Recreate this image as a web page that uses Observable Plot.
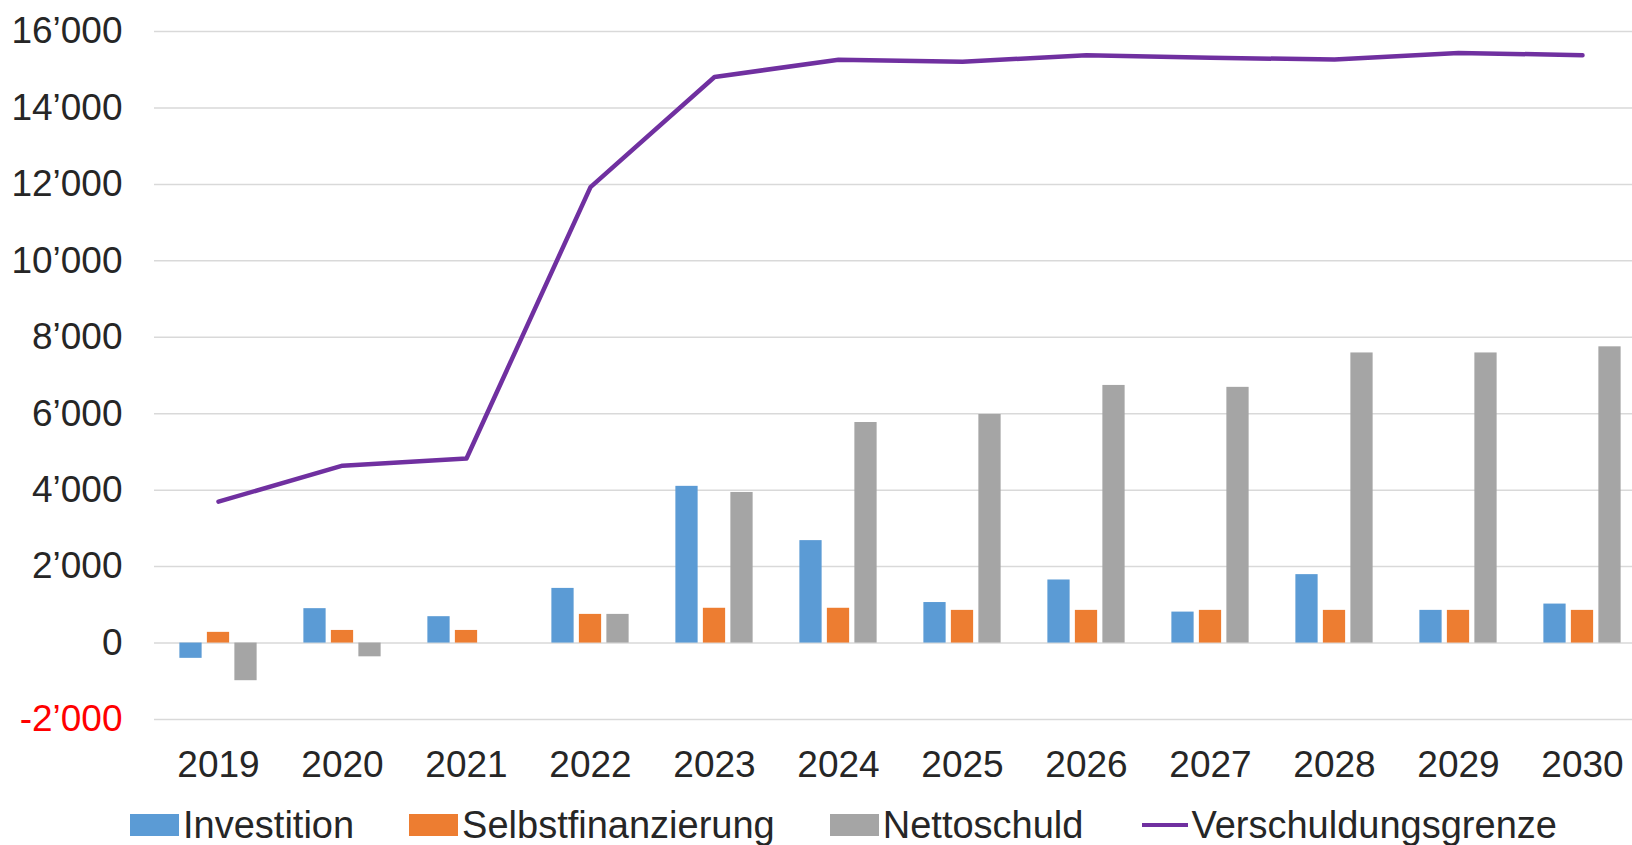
<!DOCTYPE html>
<html>
<head>
<meta charset="utf-8">
<script src="https://cdn.jsdelivr.net/npm/d3@7"></script>
<script src="https://cdn.jsdelivr.net/npm/@observablehq/plot@0.6"></script>
<style>
  html, body { margin: 0; padding: 0; background: #fff; overflow: hidden; width: 1632px; height: 845px; }
  #chart svg { display: block; max-width: none; }
  .legend { display: flex; align-items: center; font-family: "Liberation Sans", Arial, sans-serif; font-size: 38px; color: #262626; padding-left: 130px; margin-top: 13px; height: 44px; white-space: nowrap; }
  .legend .item { display: flex; align-items: center; margin-right: 55px; }
  .legend .sw { width: 49px; height: 22px; margin-right: 4px; }
  .legend .ln { width: 46px; height: 4.5px; margin-left: 4px; margin-right: 3px; }
</style>
</head>
<body>
<div id="chart"></div>
<div class="legend" id="legend"></div>
<script>
// ---- data ----
const years = ["2019","2020","2021","2022","2023","2024","2025","2026","2027","2028","2029","2030"];
const investition = [-400, 900, 690, 1430, 4100, 2680, 1060, 1650, 810, 1790, 855, 1020];
const selbstfinanzierung = [280, 330, 330, 750, 910, 910, 855, 855, 855, 855, 855, 855];
const nettoschuld = [-985, -360, 0, 750, 3940, 5770, 5980, 6740, 6690, 7590, 7590, 7750];
const verschuldungsgrenze = [3700, 4640, 4830, 11930, 14810, 15260, 15210, 15380, 15310, 15270, 15440, 15380];
const yTicks = [-2000, 0, 2000, 4000, 6000, 8000, 10000, 12000, 14000, 16000];
const seriesNames = ["Investition", "Selbstfinanzierung", "Nettoschuld", "Verschuldungsgrenze"];
const seriesColors = ["#5B9BD5", "#ED7D31", "#A5A5A5", "#7030A0"];

// ---- table ----
const rows = years.map((y, i) => ({
  year: y,
  inv: investition[i],
  selbst: selbstfinanzierung[i],
  netto: nettoschuld[i],
  grenze: verschuldungsgrenze[i]
}));

const fmt = d3.formatLocale({decimal: ".", thousands: "\u2019", grouping: [3], currency: ["", ""], minus: "-"}).format(",d");

const width = 1645, marginLeft = 154, marginRight = 0;
const bw = (width - marginLeft - marginRight) / years.length;
const barW = 22.5, step = 27.5;
const insets = i => {
  const off = (i - 1) * step;
  return {insetLeft: bw / 2 + off - barW / 2, insetRight: bw / 2 - off - barW / 2};
};
const keys = ["inv", "selbst", "netto"];

const chart = Plot.plot({
  width,
  height: 790,
  marginLeft,
  marginRight,
  marginTop: 31,
  marginBottom: 71,
  style: {fontFamily: "Liberation Sans, Arial, sans-serif", fontSize: "37px", color: "#262626", background: "white"},
  x: {domain: years, padding: 0, tickSize: 0, tickPadding: 31, label: null},
  y: {domain: [-2000, 16000], axis: null},
  marks: [
    Plot.ruleY(yTicks, {stroke: "#D9D9D9", strokeWidth: 1.5}),
    ...keys.map((k, i) => Plot.barY(rows, {x: "year", y: k, fill: seriesColors[i], ...insets(i)})),
    Plot.line(rows, {x: "year", y: "grenze", stroke: seriesColors[3], strokeWidth: 4.5, strokeLinejoin: "round", strokeLinecap: "round"}),
    Plot.text(yTicks.filter(d => d >= 0), {y: d => d, text: d => fmt(d), frameAnchor: "left", textAnchor: "end", dx: -32, fill: "#262626"}),
    Plot.text(yTicks.filter(d => d < 0), {y: d => d, text: d => fmt(d), frameAnchor: "left", textAnchor: "end", dx: -32, fill: "#FF0000"})
  ]
});
document.getElementById("chart").appendChild(chart);

// ---- legend ----
const legend = document.getElementById("legend");
seriesNames.forEach((name, i) => {
  const item = document.createElement("div");
  item.className = "item";
  const sw = document.createElement("span");
  sw.className = i === 3 ? "ln" : "sw";
  sw.style.background = seriesColors[i];
  const label = document.createElement("span");
  label.textContent = name;
  item.appendChild(sw);
  item.appendChild(label);
  legend.appendChild(item);
});
</script>
</body>
</html>
